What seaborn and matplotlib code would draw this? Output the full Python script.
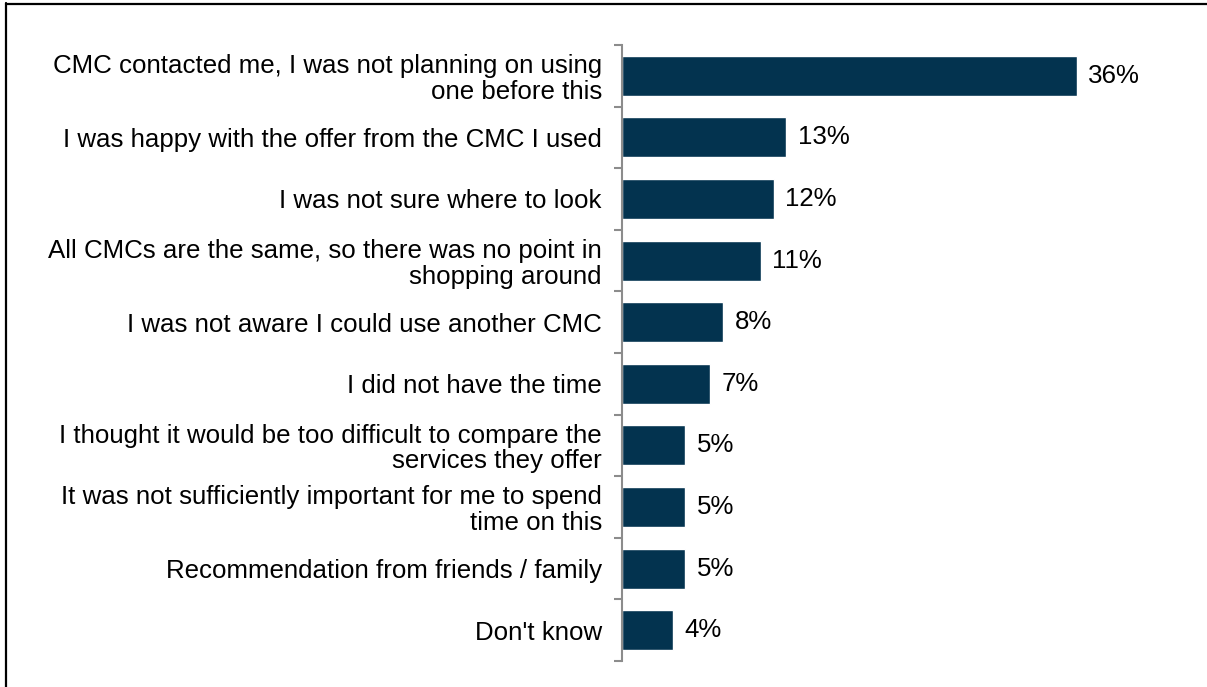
import matplotlib
matplotlib.use("Agg")
import matplotlib.pyplot as plt
from matplotlib.lines import Line2D
import seaborn as sns
import pandas as pd
import numpy as np

reasons = [
    "CMC contacted me, I was not planning on using\none before this",
    "I was happy with the offer from the CMC I used",
    "I was not sure where to look",
    "All CMCs are the same, so there was no point in\nshopping around",
    "I was not aware I could use another CMC",
    "I did not have the time",
    "I thought it would be too difficult to compare the\nservices they offer",
    "It was not sufficiently important for me to spend\ntime on this",
    "Recommendation from friends / family",
    "Don't know",
]
shares = [36, 13, 12, 11, 8, 7, 5, 5, 5, 4]

bar_color = "#03334f"
axis_gray = "#8c8c8c"
text_color = "#000000"
font_pt = 18.6

sns.set_style("white")
plt.rcParams["font.family"] = ["Liberation Sans", "DejaVu Sans"]

df = pd.DataFrame({"reason": reasons, "share": shares})

W, H = 1207, 687
fig = plt.figure(figsize=(W / 100, H / 100), dpi=100)
ax = fig.add_axes([622 / W, (H - 661) / H, (1180 - 622) / W, 616 / H])

sns.barplot(data=df, y="reason", x="share", orient="h", color=bar_color,
            width=0.65, saturation=1, ax=ax)

ax.set_xlim(0, (1180 - 622) / 12.64)
ax.set_ylim(len(reasons) - 0.5, -0.5)
ax.set_xlabel("")
ax.set_ylabel("")
ax.set_xticks([])

for s in ["top", "right", "bottom"]:
    ax.spines[s].set_visible(False)
ax.spines["left"].set_color(axis_gray)
ax.spines["left"].set_linewidth(1.5)

# category labels on major ticks, boundary tick marks on minor ticks
ax.set_yticks(range(len(reasons)))
ax.set_yticklabels(reasons, fontsize=font_pt, linespacing=1.08, ha="right", color=text_color)
ax.tick_params(axis="y", which="major", length=0, pad=14.5)
ax.set_yticks(np.arange(-0.5, len(reasons), 1), minor=True)
ax.tick_params(axis="y", which="minor", length=5.5, width=1.5, color=axis_gray, left=True)

for i, v in enumerate(shares):
    ax.text(v + 0.9, i, f"{v}%", va="center", ha="left", fontsize=font_pt, color=text_color)

# outer frame (left and top edges)
fig.add_artist(Line2D([5.5 / W, 5.5 / W], [0, 1 - 3 / H], transform=fig.transFigure,
                      color="black", linewidth=1.6))
fig.add_artist(Line2D([5.5 / W, 1], [1 - 3.5 / H, 1 - 3.5 / H], transform=fig.transFigure,
                      color="black", linewidth=1.6))

fig.savefig("out.png", dpi=100)
